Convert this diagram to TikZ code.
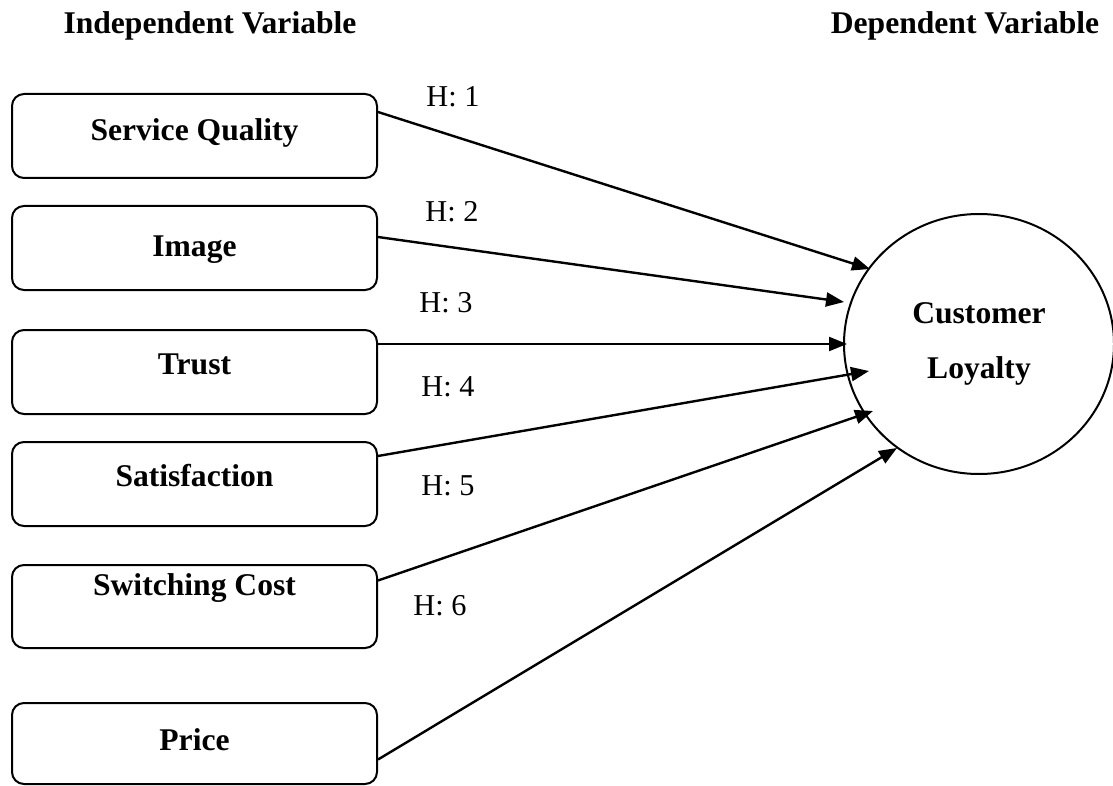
\documentclass[tikz,border=0pt]{standalone}
\usepackage{fontspec}
\setmainfont{Liberation Serif}
\usetikzlibrary{arrows.meta,shapes.geometric}
\begin{document}
\begin{tikzpicture}[x=1pt,y=-1pt,
  box/.style={draw, line width=2pt, rounded corners=12pt, minimum width=365pt, minimum height=84pt, inner sep=0pt, font=\bfseries\fontsize{31.6}{38}\selectfont, text height=21pt, text depth=#1},
  box/.default=10pt,
  hlab/.style={inner sep=0pt, font=\fontsize{30.3}{36}\selectfont},
  head/.style={inner sep=0pt, anchor=base, font=\bfseries\fontsize{31.6}{38}\selectfont},
  conn/.style={line width=2.4pt, -{Triangle[length=18pt,width=14pt]}}]
\useasboundingbox (0,0) rectangle (1113,786);

\node[head] (iv) at (210,34) {Independent Variable};
\node[head] (dv) at (965,34) {Dependent Variable};

\node[box=12pt] (sq) at (194.5,136) {Service Quality};
\node[box=4pt]  (im) at (194.5,248) {Image};
\node[box=16pt] (tr) at (194.5,372) {Trust};
\node[box=16pt] (sa) at (194.5,484) {Satisfaction};
\node[box=44pt, minimum height=83pt] (sw) at (194.5,606.5) {Switching Cost};
\node[box=8pt, minimum height=81pt] (pr) at (194.5,743.5) {Price};

\node[draw, ellipse, line width=2pt, minimum width=270pt, minimum height=260pt, inner sep=0pt, align=center, font=\bfseries\fontsize{31.6}{55}\selectfont] (cl) at (979,344) {Customer\\Loyalty};

\coordinate (t1) at (870,269);
\coordinate (t2) at (844,302);
\coordinate (t3) at (847,344);
\coordinate (t4) at (869,371);
\coordinate (t5) at (873,411);
\coordinate (t6) at (897,448);

\draw[conn] ([yshift=24pt]sq.east) -- (t1);
\draw[conn] ([yshift=11pt]im.east) -- (t2);
\draw[conn] ([yshift=28pt]tr.east) -- (t3);
\draw[conn] ([yshift=28pt]sa.east) -- (t4);
\draw[conn] ([yshift=26pt]sw.east) -- (t5);
\draw[conn] ([yshift=-16pt]pr.east) -- (t6);

\node[hlab] (h1) at (453,97) {H: 1};
\node[hlab] (h2) at (452,212) {H: 2};
\node[hlab] (h3) at (446,303) {H: 3};
\node[hlab] (h4) at (448,387) {H: 4};
\node[hlab] (h5) at (448,486) {H: 5};
\node[hlab] (h6) at (440,606) {H: 6};
\end{tikzpicture}
\end{document}
